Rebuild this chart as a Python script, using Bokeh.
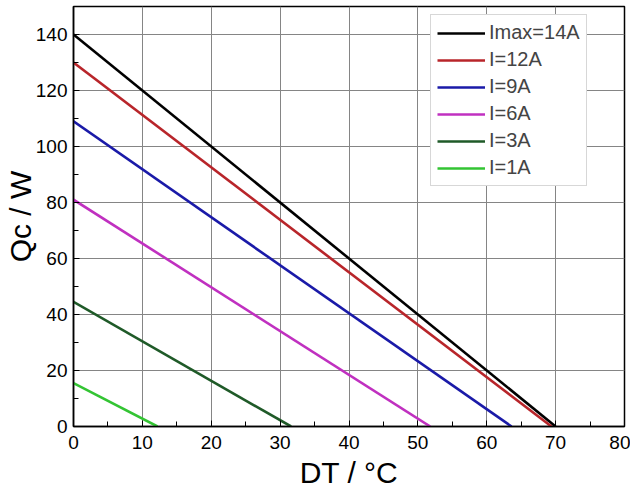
from bokeh.plotting import figure
from bokeh.models import Range1d, SingleIntervalTicker, Legend, LegendItem
from bokeh.embed import file_html
from bokeh.resources import INLINE

labels = ["Imax=14A", "I=12A", "I=9A", "I=6A", "I=3A", "I=1A"]
qc_at_zero = [140, 130, 109, 81, 44.5, 15.5]
dt_at_zero_qc = [70, 69.4, 63.6, 51.8, 31.6, 12.2]
colors = ["#000000", "#b8252a", "#1a1aa8", "#c030c0", "#1f5a28", "#33c433"]

p = figure(width=630, height=492, output_backend="svg", toolbar_location=None,
           x_range=Range1d(0, 80), y_range=Range1d(0, 150),
           min_border_left=72, min_border_right=6, min_border_top=6, min_border_bottom=66)

FONT = "Liberation Sans"
items = []
for lab, q0, dt0, c in zip(labels, qc_at_zero, dt_at_zero_qc, colors):
    r = p.line([0, dt0], [q0, 0], line_color=c, line_width=2.6)
    items.append(LegendItem(label=lab, renderers=[r]))

p.xaxis.ticker = SingleIntervalTicker(interval=10, num_minor_ticks=2)
p.yaxis.ticker = SingleIntervalTicker(interval=20, num_minor_ticks=2)

for ax in (p.xaxis[0], p.yaxis[0]):
    ax.major_tick_in = 6
    ax.major_tick_out = 0
    ax.minor_tick_in = 5
    ax.minor_tick_out = 0
    ax.major_tick_line_color = "black"
    ax.minor_tick_line_color = "black"
    ax.axis_line_color = "black"
    ax.axis_line_width = 1.5
    ax.major_label_text_font = FONT
    ax.major_label_text_font_size = "19px"
    ax.major_label_text_color = "black"
    ax.axis_label_text_font = FONT
    ax.axis_label_text_font_style = "normal"
    ax.axis_label_text_font_size = "30px"
    ax.axis_label_text_color = "black"

p.xaxis.axis_label = "DT / \u00b0C"
p.yaxis.axis_label = "Qc / W"
p.xaxis.major_label_standoff = 9
p.xaxis.axis_label_standoff = 4
p.yaxis.major_label_standoff = 6
p.yaxis.axis_label_standoff = -4

p.grid.grid_line_color = "#858585"
p.grid.grid_line_width = 1
p.outline_line_color = "black"
p.outline_line_width = 1.5
p.outline_line_alpha = 1

legend = Legend(items=items, location=(357, 240))
legend.label_text_font = FONT
legend.label_text_font_size = "20px"
legend.label_height = 20
legend.glyph_height = 20
legend.glyph_width = 48
legend.label_standoff = 4
legend.spacing = 4
legend.padding = 6
legend.margin = 0
legend.border_line_color = "#b0b0b0"
legend.border_line_width = 1
legend.background_fill_alpha = 1
p.add_layout(legend, "center")

open("out.html", "w").write(file_html(p, INLINE))
